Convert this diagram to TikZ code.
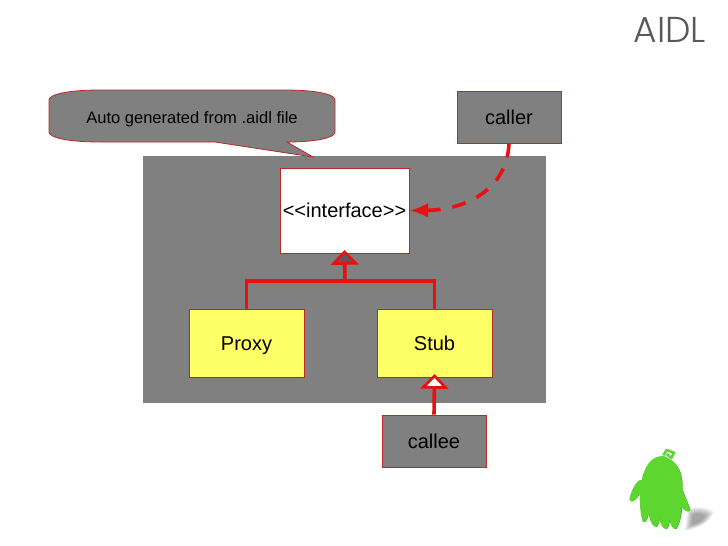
\documentclass[tikz,border=0pt]{standalone}
\usepackage{fontspec}
\setmainfont{Liberation Sans}
\newfontfamily\titlefont{Poppins Light}
\usepackage{tikz}
\usetikzlibrary{arrows.meta}
\definecolor{slidegray}{RGB}{128,128,128}
\definecolor{edgered}{RGB}{186,40,40}
\definecolor{linkred}{RGB}{232,16,16}
\definecolor{boxyellow}{RGB}{255,255,102}
\definecolor{blobgreen}{RGB}{94,214,48}
\definecolor{blobdark}{RGB}{64,176,30}
\tikzset{>=latex}
\tikzset{
    box/.style={draw=edgered,line width=.6pt,inner sep=0pt,text height=12pt,text depth=1.5pt,font=\fontsize{15}{18}\selectfont},
    classbox/.style={box,fill=boxyellow,minimum width=86.25pt,minimum height=51pt},
    rolebox/.style={box,fill=slidegray,minimum width=78pt,minimum height=39pt},
    link/.style={draw=linkred,line width=2.7pt},
    openhead/.style={-{Triangle[length=11pt,width=21pt,line width=2pt,fill=#1]},shorten >=-2.5pt},
}
\newcommand{\blobshape}{(160,78) .. controls (125,78) and (105,105) .. (95,150) .. controls (80,145) and (60,190) .. (58,208) .. controls (60,220) and (75,212) .. (88,190) .. controls (90,220) and (90,250) .. (98,275) .. controls (105,280) and (112,265) .. (115,250) .. controls (120,270) and (125,290) .. (138,290) .. controls (145,285) and (148,270) .. (148,262) .. controls (150,285) and (160,298) .. (170,296) .. controls (175,290) and (178,275) .. (178,265) .. controls (180,285) and (190,300) .. (198,296) .. controls (208,280) and (212,260) .. (215,232) .. controls (222,240) and (232,248) .. (240,240) .. controls (232,215) and (222,195) .. (216,178) .. controls (218,130) and (205,95) .. (160,78) -- cycle}
\begin{document}
\begin{tikzpicture}[x=.75pt,y=-.75pt]
    \useasboundingbox (0,0) rectangle (728,546);
    \fill[color=white] (0,0) rectangle (728,546);
    \fill[color=slidegray] (143,156) rectangle (546,403);
    \filldraw[fill=slidegray,draw=edgered,line width=.6pt] (49,100) .. controls (49,94) and (70,90) .. (100,90) -- (285,90) .. controls (315,90) and (335,94) .. (335,100) -- (335,132) .. controls (335,138) and (315,142) .. (287,142) -- (313,157) -- (215,142) -- (100,142) .. controls (70,142) and (49,138) .. (49,132) -- cycle;
    \node[font=\fontsize{12.4}{14}\selectfont] (note) at (192,119) {Auto generated from .aidl file};
    \node[box,fill=white,minimum width=96.75pt,minimum height=63.75pt] (iface) at (344.5,210.5) {{<}{<}interface{>}{>}};
    \node[classbox] (proxy) at (246.5,343) {Proxy};
    \node[classbox] (stub) at (434.5,343) {Stub};
    \node[rolebox] (caller) at (509,117) {caller};
    \node[rolebox] (callee) at (434,441) {callee};
    \coordinate (join) at (345,281);
    \draw[link] (proxy.north) |- (join) -| (stub.north);
    \draw[link,openhead=slidegray!70!black] (join) -- (iface.south);
    \draw[link,openhead=white] (callee.north) -- (stub.south);
    \draw[link,dash pattern=on 10.5pt off 9pt,-{Latex[length=14pt,width=11pt]}] (caller.south) .. controls (507,190) and (465,210) .. (iface.east);
    \node[text=black!65,font=\titlefont\fontsize{27}{30}\selectfont] (title) at (670,30) {AIDL};
    \begin{scope}[shift={(610,430)},x=.25pt,y=-.25pt]
        \foreach \spread in {1,.92,.84,.76,.68,.6,.52,.44}
            \fill[black,opacity=.05,shift={(262,268)},x=\spread*.25pt,y=-\spread*.25pt] (-30,-28) .. controls (-5,-45) and (35,-35) .. (50,-22) .. controls (40,5) and (15,25) .. (-38,35) -- cycle;
        \fill[blobdark,shift={(2,1)}] \blobshape;
        \fill[blobgreen] \blobshape;
        \draw[blobgreen,line width=1.9pt,line join=round] (160,76) -- (170,60) -- (192,68) -- (184,84) -- (170,72);
    \end{scope}
\end{tikzpicture}
\end{document}
